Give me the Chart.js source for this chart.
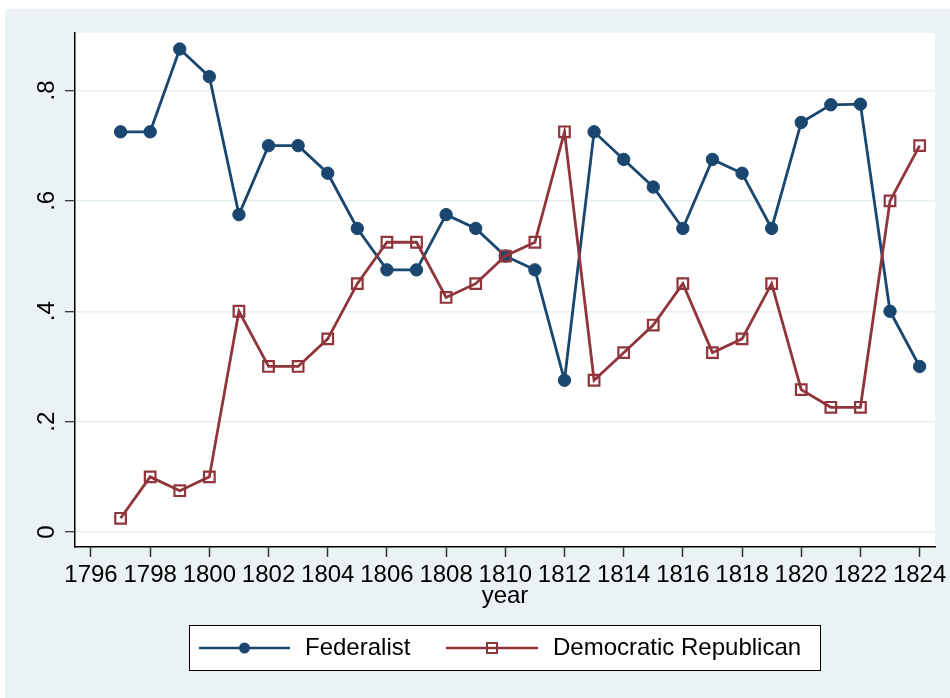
<!DOCTYPE html>
<html>
<head>
<meta charset="utf-8">
<script src="https://cdn.jsdelivr.net/npm/chart.js@4"></script>
<style>
    html, body { margin: 0; padding: 0; background: #ffffff; }
    #wrap { width: 950px; height: 698px; }
</style>
</head>
<body>
<div id="wrap"><canvas id="my-chart" width="950" height="698"></canvas></div>
<script>
// * Share of votes per year, Federalist vs Democratic Republican

const years = [1797, 1798, 1799, 1800, 1801, 1802, 1803, 1804, 1805, 1806, 1807, 1808, 1809, 1810,
    1811, 1812, 1813, 1814, 1815, 1816, 1817, 1818, 1819, 1820, 1821, 1822, 1823, 1824]
const federalist = [0.725, 0.725, 0.875, 0.825, 0.575, 0.7, 0.7, 0.65, 0.55, 0.475, 0.475, 0.575, 0.55, 0.5,
    0.475, 0.275, 0.725, 0.675, 0.625, 0.55, 0.675, 0.65, 0.55, 0.742, 0.774, 0.775, 0.4, 0.3]
const democraticRepublican = [0.025, 0.1, 0.075, 0.1, 0.4, 0.3, 0.3, 0.35, 0.45, 0.525, 0.525, 0.425, 0.45, 0.5,
    0.525, 0.725, 0.275, 0.325, 0.375, 0.45, 0.325, 0.35, 0.45, 0.258, 0.226, 0.226, 0.6, 0.7]
const xTicks = [1796, 1798, 1800, 1802, 1804, 1806, 1808, 1810, 1812, 1814, 1816, 1818, 1820, 1822, 1824]
const yTicks = [0, 0.2, 0.4, 0.6, 0.8]
const yTickLabels = ['0', '.2', '.4', '.6', '.8']
const seriesNames = ['Federalist', 'Democratic Republican']

const navy = '#1a476f'
const maroon = '#90353b'
const font = "'Liberation Sans', Arial, sans-serif"
const ctx = document.getElementById('my-chart')

// Stata-like backgrounds: light frame + white plot region
const backgroundPlugin = {
    id: 'stataBackground',
    beforeDraw(chart) {
        const c = chart.ctx
        const a = chart.chartArea
        c.save()
        c.fillStyle = '#ffffff'
        c.fillRect(0, 0, chart.width, chart.height)
        c.fillStyle = '#eaf2f3'
        c.fillRect(5, 9, chart.width - 5, chart.height - 9)
        c.fillStyle = '#ffffff'
        c.fillRect(a.left, a.top, a.right - a.left, a.bottom - a.top)
        c.restore()
    }
}

// Legend in a box under the axis title, line + marker like Stata
const boxLegendPlugin = {
    id: 'boxLegend',
    afterDraw(chart) {
        const c = chart.ctx
        const y = 648
        c.save()
        c.fillStyle = '#ffffff'
        c.fillRect(189.5, 625.5, 631, 45)
        c.strokeStyle = '#000000'
        c.lineWidth = 1
        c.strokeRect(189.5, 625.5, 631, 45)

        const items = [
            { x0: 199, x1: 290, tx: 305 },
            { x0: 446, x1: 538, tx: 553 }
        ]
        chart.data.datasets.forEach((ds, i) => {
            const it = items[i]
            const mid = (it.x0 + it.x1) / 2
            c.strokeStyle = ds.borderColor
            c.lineWidth = 2.5
            c.beginPath()
            c.moveTo(it.x0, y)
            c.lineTo(it.x1, y)
            c.stroke()
            if (ds.pointStyle === 'rect') {
                c.lineWidth = 2
                c.strokeRect(mid - 5, y - 5, 10, 10)
            } else {
                c.fillStyle = ds.borderColor
                c.beginPath()
                c.arc(mid, y, 5.5, 0, Math.PI * 2)
                c.fill()
            }
            c.fillStyle = '#000000'
            c.font = '24px ' + font
            c.textBaseline = 'middle'
            c.textAlign = 'left'
            c.fillText(ds.label, it.tx, y)
        })
        c.restore()
    }
}

new Chart(ctx, {
    type: 'line',
    data: {
        datasets: [
            {
                label: seriesNames[0],
                data: years.map((yr, i) => ({ x: yr, y: federalist[i] })),
                borderColor: navy,
                backgroundColor: navy,
                borderWidth: 2.8,
                pointStyle: 'circle',
                pointRadius: 6.2,
                pointHoverRadius: 6.2,
                pointBorderWidth: 1,
                pointBackgroundColor: navy,
                pointBorderColor: navy,
                order: 1
            },
            {
                label: seriesNames[1],
                data: years.map((yr, i) => ({ x: yr, y: democraticRepublican[i] })),
                borderColor: maroon,
                backgroundColor: maroon,
                borderWidth: 2.8,
                pointStyle: 'rect',
                pointRadius: 7.5,
                pointHoverRadius: 7.5,
                pointBorderWidth: 2.2,
                pointBackgroundColor: 'rgba(0,0,0,0)',
                pointBorderColor: maroon,
                order: 0
            }
        ]
    },
    options: {
        responsive: false,
        animation: false,
        layout: { padding: { left: 0, top: 33, right: 15, bottom: 87 } },
        plugins: {
            legend: { display: false },
            tooltip: { enabled: false }
        },
        scales: {
            x: {
                type: 'linear',
                min: 1795.46,
                max: 1824.52,
                afterBuildTicks: (scale) => { scale.ticks = xTicks.map((v) => ({ value: v })) },
                afterFit: (scale) => { scale.height = 64; scale.paddingLeft = 0; scale.paddingRight = 0 },
                grid: { drawOnChartArea: false, drawTicks: true, tickLength: 10, tickColor: '#333333', tickWidth: 1.5 },
                border: { display: true, color: '#000000', width: 1.5 },
                ticks: {
                    autoSkip: false,
                    maxRotation: 0,
                    minRotation: 0,
                    padding: 4,
                    color: '#000000',
                    font: { family: font, size: 24, lineHeight: 1.2 },
                    callback: (v) => String(v)
                },
                title: {
                    display: true,
                    text: 'year',
                    color: '#000000',
                    padding: { top: 0, bottom: 0 },
                    font: { family: font, size: 24, lineHeight: 1.2 }
                }
            },
            y: {
                min: -0.027,
                max: 0.904,
                afterBuildTicks: (scale) => { scale.ticks = yTicks.map((v) => ({ value: v })) },
                afterFit: (scale) => { scale.width = 75; scale.paddingTop = 0; scale.paddingBottom = 0 },
                grid: { color: '#e6eff1', lineWidth: 1.5, drawTicks: true, tickLength: 10, tickColor: '#000000', tickWidth: 1 },
                border: { display: true, color: '#000000', width: 1.5 },
                ticks: {
                    autoSkip: false,
                    minRotation: 90,
                    maxRotation: 90,
                    crossAlign: 'center',
                    padding: 8,
                    color: '#000000',
                    font: { family: font, size: 24, lineHeight: 1.2 },
                    callback: (v, i) => yTickLabels[i]
                }
            }
        }
    },
    plugins: [backgroundPlugin, boxLegendPlugin]
})
</script>
</body>
</html>
